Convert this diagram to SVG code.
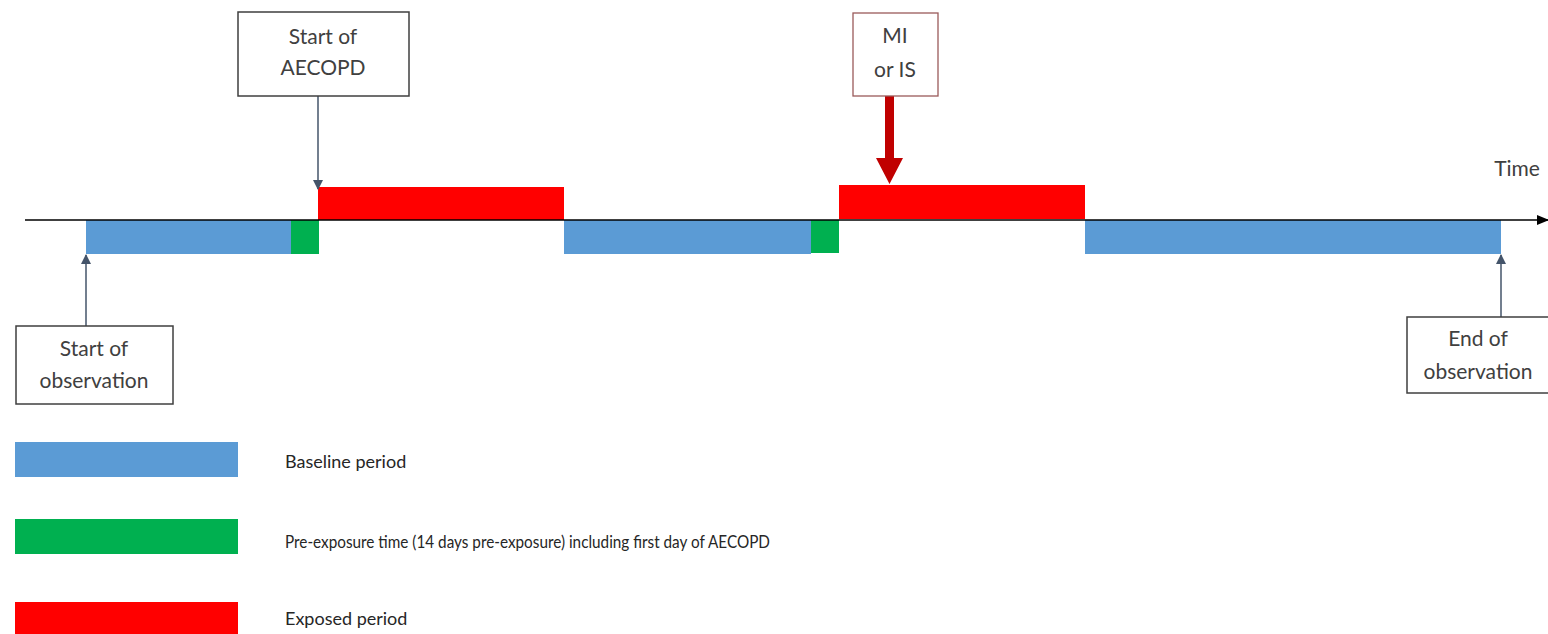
<svg xmlns="http://www.w3.org/2000/svg" width="1548" height="634" viewBox="0 0 1548 634">
<style>
  .box { fill: #ffffff; stroke: #3f3f3f; stroke-width: 1.5; }
  .boxmi { fill: #ffffff; stroke: #9a5a5a; stroke-width: 1.3; }
  .lbl { font-family: Lato, "Liberation Sans", sans-serif; font-size: 21px; fill: #404040; text-anchor: middle; }
  .leg { font-family: Lato, "Liberation Sans", sans-serif; font-size: 18px; fill: #262626; }
  .base { fill: #5b9bd5; }
  .pre { fill: #00b050; }
  .exp { fill: #ff0000; }
  .conn { stroke: #44546a; stroke-width: 1.5; fill: none; }
</style>
<defs>
  <marker id="ah" markerWidth="10" markerHeight="10" refX="9" refY="5" orient="auto" markerUnits="userSpaceOnUse">
    <path d="M0,0 L10,5 L0,10 Z" fill="#44546a"/>
  </marker>
  <marker id="axh" markerWidth="12" markerHeight="12" refX="11" refY="6" orient="auto" markerUnits="userSpaceOnUse">
    <path d="M0,1 L12,6 L0,11 Z" fill="#000000"/>
  </marker>
</defs>
<rect width="1548" height="634" fill="#ffffff"/>

<g id="periods">
  <rect class="base" x="86" y="220" width="205" height="34"/>
  <rect class="pre" x="291" y="220" width="28" height="34"/>
  <rect class="exp" x="318" y="187" width="246" height="33"/>
  <rect class="base" x="564" y="220" width="247" height="34"/>
  <rect class="pre" x="811" y="220" width="28" height="33"/>
  <rect class="exp" x="839" y="185" width="246" height="34"/>
  <rect class="base" x="1085" y="220" width="416" height="34"/>
</g>

<g id="axis">
  <line x1="25" y1="220" x2="1548" y2="220" stroke="#000000" stroke-width="1.6" marker-end="url(#axh)"/>
  <text class="lbl" x="1517" y="176">Time</text>
</g>

<g id="connectors">
  <line class="conn" x1="318" y1="96" x2="318" y2="189" marker-end="url(#ah)"/>
  <line class="conn" x1="86" y1="326" x2="86" y2="255" marker-end="url(#ah)"/>
  <line class="conn" x1="1501" y1="317" x2="1501" y2="255" marker-end="url(#ah)"/>
  <path d="M885,96 L894,96 L894,158 L903,158 L889.5,184 L876,158 L885,158 Z" fill="#c00000"/>
</g>

<g id="start-aecopd">
  <rect class="box" x="238" y="12" width="171" height="84"/>
  <text class="lbl" x="323" y="44">Start of</text>
  <text class="lbl" x="323" y="75">AECOPD</text>
</g>

<g id="mi-is">
  <rect class="boxmi" x="853" y="13" width="85" height="83"/>
  <text class="lbl" x="895" y="43">MI</text>
  <text class="lbl" x="895" y="77">or IS</text>
</g>

<g id="start-observation">
  <rect class="box" x="16" y="326" width="157" height="78"/>
  <text class="lbl" x="94" y="356">Start of</text>
  <text class="lbl" x="94" y="388">observation</text>
</g>

<g id="end-observation">
  <rect class="box" x="1407" y="317" width="145" height="76"/>
  <text class="lbl" x="1478" y="346">End of</text>
  <text class="lbl" x="1478" y="379">observation</text>
</g>

<g id="legend">
  <rect class="base" x="15" y="442" width="223" height="35"/>
  <text class="leg" x="285" y="468">Baseline period</text>
  <rect class="pre" x="15" y="519" width="223" height="35"/>
  <text class="leg" x="285" y="548" textLength="485" lengthAdjust="spacingAndGlyphs">Pre-exposure time (14 days pre-exposure) including first day of AECOPD</text>
  <rect class="exp" x="15" y="602" width="223" height="32"/>
  <text class="leg" x="285" y="625">Exposed period</text>
</g>
</svg>
